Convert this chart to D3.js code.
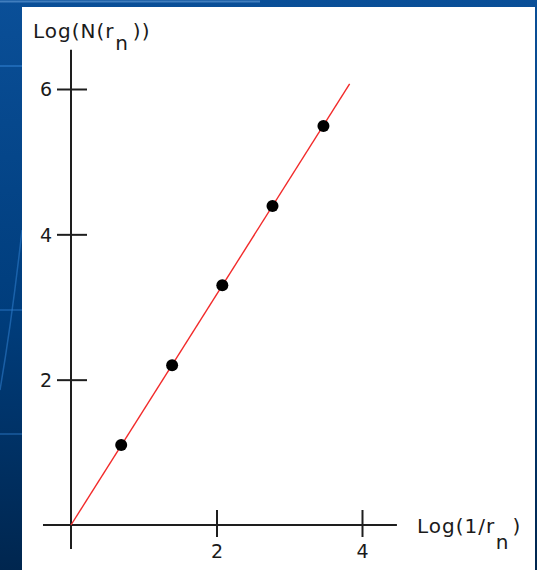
<!DOCTYPE html>
<html>
<head>
<meta charset="utf-8">
<script src="https://cdn.jsdelivr.net/npm/d3@7"></script>
<style>
  html, body { margin: 0; padding: 0; background: #003a78; }
  svg { display: block; }
  text { font-family: "DejaVu Sans", Verdana, sans-serif; fill: #1a1a1a; }
</style>
</head>
<body>
<script>
// Box-counting data: log of inverse box size vs log of box count
const logInvR = [0.69, 1.39, 2.08, 2.77, 3.47];
const logN    = [1.10, 2.20, 3.30, 4.39, 5.49];

// Fitted line endpoints (through the origin)
const fitX = [0, 3.83];
const fitY = [0, 6.07];

// Tick values and axis labels
const xTicks = [2, 4];
const yTicks = [2, 4, 6];
const xLabel = ["Log(1/r", "n", ")"];
const yLabel = ["Log(N(r", "n", "))"];

const W = 537, H = 570;
const svg = d3.select("body").append("svg").attr("width", W).attr("height", H);

// Blue slide background
const defs = svg.append("defs");
const grad = defs.append("linearGradient").attr("id", "bg")
  .attr("x1", 0).attr("y1", 0).attr("x2", 0).attr("y2", 1);
grad.append("stop").attr("offset", "0%").attr("stop-color", "#0a4f98");
grad.append("stop").attr("offset", "55%").attr("stop-color", "#003d7c");
grad.append("stop").attr("offset", "100%").attr("stop-color", "#00264f");
svg.append("rect").attr("width", W).attr("height", H).attr("fill", "url(#bg)");

// decorative light streaks on the background
const deco = svg.append("g").attr("fill", "none").attr("stroke", "#2f7fd0").attr("stroke-opacity", 0.55);
deco.append("line").attr("x1", 0).attr("x2", 22).attr("y1", 66).attr("y2", 66).attr("stroke-width", 2);
deco.append("line").attr("x1", 0).attr("x2", 22).attr("y1", 310).attr("y2", 310).attr("stroke-width", 1.5);
deco.append("line").attr("x1", 0).attr("x2", 22).attr("y1", 434).attr("y2", 434).attr("stroke-width", 1.5);
deco.append("path").attr("d", "M22,230 Q12,320 0,390").attr("stroke-width", 1.5);
deco.append("line").attr("x1", 0).attr("x2", 260).attr("y1", 1.5).attr("y2", 1.5)
  .attr("stroke", "#6fa6de").attr("stroke-width", 2);

// White panel
svg.append("rect").attr("x", 22).attr("y", 7).attr("width", 513).attr("height", H - 7).attr("fill", "#ffffff");

// Scales
const x = d3.scaleLinear().domain([0, 4]).range([71, 362]);
const y = d3.scaleLinear().domain([0, 6]).range([525, 89]);

// Axis extents in data units
const xAxisExtent = [-0.385, 4.48];
const yAxisExtent = [-0.33, 6.54];
const axisColor = "#1e1e1e";

// Main axis lines crossing at the origin
svg.append("line")
  .attr("x1", x(xAxisExtent[0])).attr("x2", x(xAxisExtent[1]))
  .attr("y1", y(0)).attr("y2", y(0))
  .attr("stroke", axisColor).attr("stroke-width", 2);
svg.append("line")
  .attr("x1", x(0)).attr("x2", x(0))
  .attr("y1", y(yAxisExtent[0])).attr("y2", y(yAxisExtent[1]))
  .attr("stroke", axisColor).attr("stroke-width", 2);

// Y axis ticks (cross ticks)
const yAxis = svg.append("g").attr("transform", `translate(${x(0)},0)`)
  .call(d3.axisLeft(y).tickValues(yTicks).tickSize(14).tickPadding(5).tickFormat(d3.format("d")));
yAxis.select(".domain").remove();
yAxis.selectAll(".tick line").attr("x1", 16).attr("stroke", axisColor).attr("stroke-width", 2);
yAxis.selectAll(".tick text")
  .attr("font-family", '"DejaVu Sans", Verdana, sans-serif')
  .attr("font-size", 19).attr("fill", "#222").attr("dy", "0.36em");

// X axis ticks (cross ticks)
const xAxis = svg.append("g").attr("transform", `translate(0,${y(0)})`)
  .call(d3.axisBottom(x).tickValues(xTicks).tickSize(12).tickPadding(8).tickFormat(d3.format("d")));
xAxis.select(".domain").remove();
xAxis.selectAll(".tick line").attr("y1", -15).attr("stroke", axisColor).attr("stroke-width", 2);
xAxis.selectAll(".tick text")
  .attr("font-family", '"DejaVu Sans", Verdana, sans-serif')
  .attr("font-size", 19).attr("fill", "#222");

// Fitted line
const line = d3.line().x(d => x(d[0])).y(d => y(d[1]));
svg.append("path")
  .datum(d3.zip(fitX, fitY))
  .attr("d", line)
  .attr("fill", "none").attr("stroke", "#f22a2a").attr("stroke-width", 1.4);

// Data points
svg.append("g").selectAll("circle")
  .data(d3.zip(logInvR, logN))
  .join("circle")
  .attr("cx", d => x(d[0])).attr("cy", d => y(d[1]))
  .attr("r", 6).attr("fill", "#000");

// Axis titles with subscripts
function subLabel(px, py, parts, drop, gap) {
  const t = svg.append("text").attr("x", px).attr("y", py)
    .attr("font-size", 20).attr("letter-spacing", 1).attr("fill", "#222");
  t.append("tspan").text(parts[0]);
  t.append("tspan").attr("dx", 1).attr("dy", drop).text(parts[1]);
  t.append("tspan").attr("dx", gap).attr("dy", -drop).text(parts[2]);
}
subLabel(33, 38, yLabel, 12, 4);
subLabel(417, 533, xLabel, 16, 3);
</script>
</body>
</html>
